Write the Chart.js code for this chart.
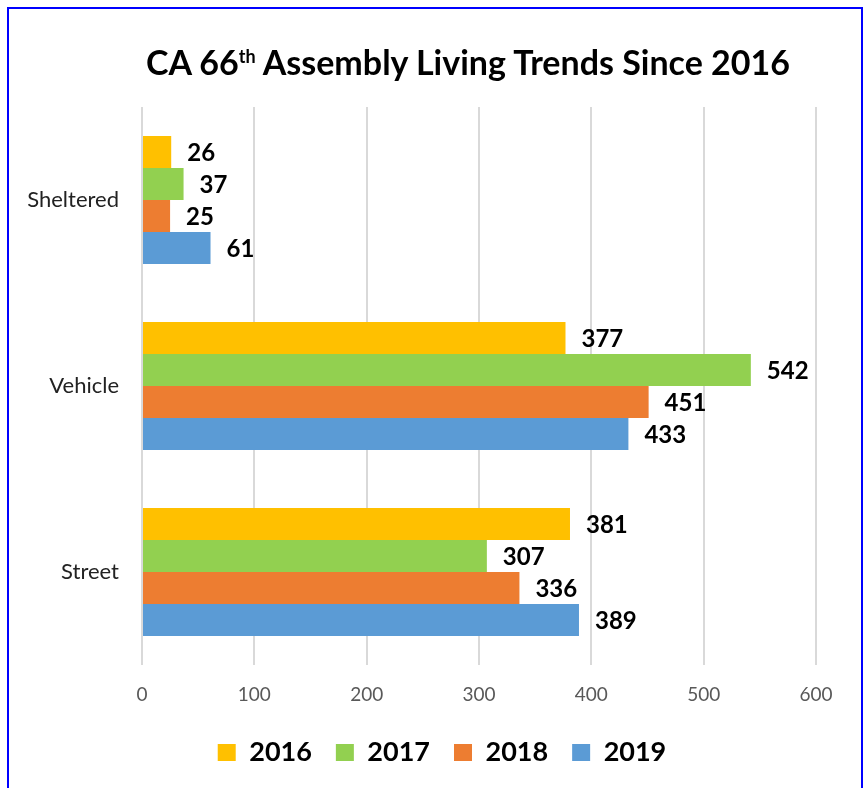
<!DOCTYPE html>
<html>
<head>
<meta charset="utf-8">
<script src="https://cdn.jsdelivr.net/npm/chart.js@4"></script>
<style>
	body { margin: 0; background: #fff; }
	#wrap { position: relative; width: 866px; height: 788px; overflow: hidden; }
	#frame { position: absolute; left: 7px; top: 7px; width: 852px; height: 800px; border: 2px solid #0000ff; }
	#title { position: absolute; top: 45px; left: 468px; transform: translateX(-50%); white-space: nowrap;
		font: bold 34px Lato; line-height: 34px; color: #000; }
	#title sup { font-size: 18px; vertical-align: 12px; line-height: 0; }
	canvas { position: absolute; left: 0; top: 0; }
</style>
</head>
<body>
<div id="wrap">
	<div id="frame"></div>
	<canvas id="myChart" width="866" height="788"></canvas>
	<div id="title">CA 66<sup>th</sup> Assembly Living Trends Since 2016</div>
</div>
<script>
const categories = ["Sheltered", "Vehicle", "Street"];
const years = ["2016", "2017", "2018", "2019"];
const values2016 = [26, 377, 381];
const values2017 = [37, 542, 307];
const values2018 = [25, 451, 336];
const values2019 = [61, 433, 389];
const colors = ["#FFC000", "#92D050", "#ED7D31", "#5B9BD5"];
const xMin = 0;
const xMax = 600;
const xStep = 100;

const series = [values2016, values2017, values2018, values2019];

// bold numbers at the end of each bar
const valueLabels = {
	id: "valueLabels",
	afterDatasetsDraw(chart) {
		const ctx = chart.ctx;
		ctx.save();
		ctx.font = "bold 24px Lato";
		ctx.fillStyle = "#000";
		ctx.textAlign = "left";
		ctx.textBaseline = "middle";
		chart.data.datasets.forEach((ds, i) => {
			chart.getDatasetMeta(i).data.forEach((bar, j) => {
				ctx.fillText(ds.data[j], bar.x + 16, bar.y + 1);
			});
		});
		ctx.restore();
	},
};

// legend in the original sits a bit right of the canvas centre
const shiftLegend = {
	id: "shiftLegend",
	afterLayout(chart) {
		chart.legend.left += 34;
		chart.legend.right += 34;
	},
};

const ctx = document.getElementById("myChart").getContext("2d");

const myChart = new Chart(ctx, {
	type: "bar",
	data: {
		labels: categories,
		datasets: years.map((y, i) => ({
			label: y,
			data: series[i],
			backgroundColor: colors[i],
			borderWidth: 0,
			categoryPercentage: 0.688,
			barPercentage: 1,
		})),
	},
	options: {
		indexAxis: "y",
		responsive: false,
		animation: false,
		layout: {
			padding: { top: 107, right: 50, bottom: 12, left: 0 },
		},
		scales: {
			x: {
				min: xMin,
				max: xMax,
				ticks: {
					stepSize: xStep,
					color: "#595959",
					font: { family: "Lato", size: 19 },
					padding: 18,
				},
				grid: { color: "#d9d9d9", lineWidth: 2, drawTicks: false },
				border: { display: false },
				afterFit: (s) => { s.height = 50; },
			},
			y: {
				ticks: {
					color: "#222",
					font: { family: "Lato", size: 22 },
					padding: 23,
				},
				grid: { display: false, drawTicks: false },
				border: { display: false },
				afterFit: (s) => { s.width = 142; },
			},
		},
		plugins: {
			legend: {
				position: "bottom",
				labels: {
					color: "#000",
					font: { family: "Lato", size: 27, weight: "bold" },
					boxWidth: 18,
					boxHeight: 17,
					padding: 24,
				},
			},
			tooltip: { enabled: false },
		},
	},
	plugins: [valueLabels, shiftLegend],
});
</script>
</body>
</html>
